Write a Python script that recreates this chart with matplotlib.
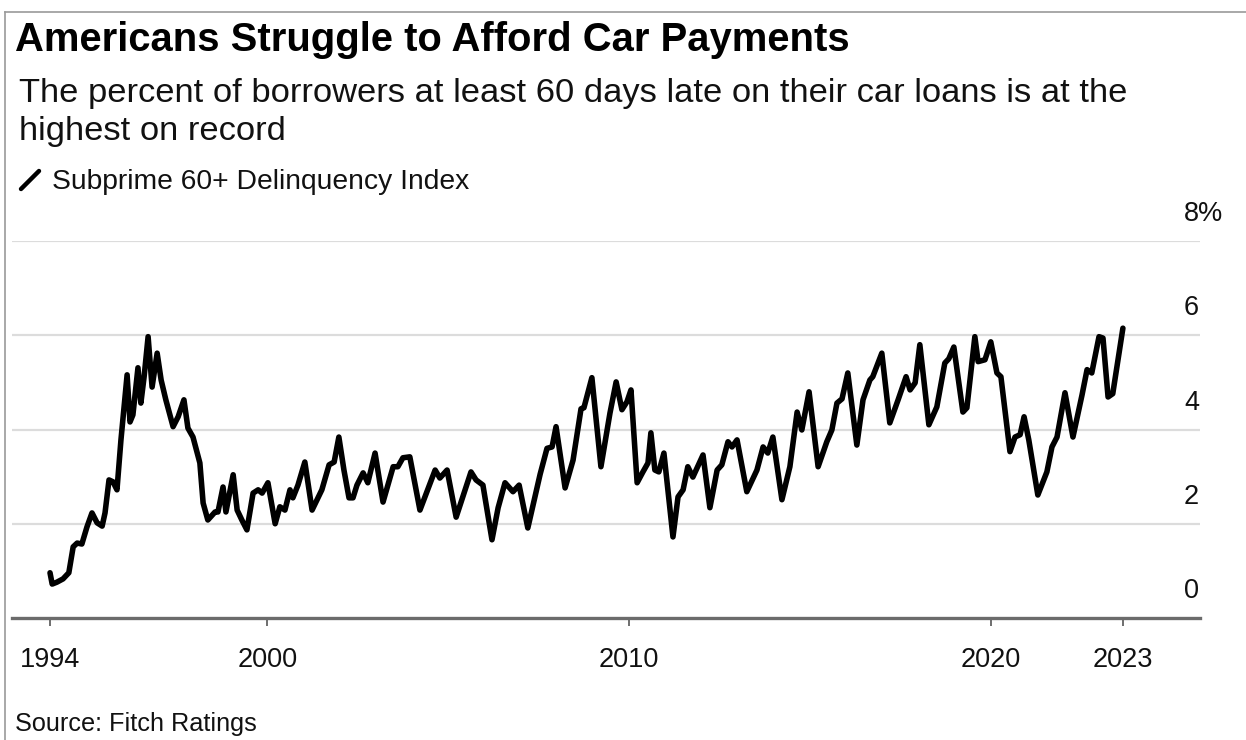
import numpy as np
import matplotlib
matplotlib.use("Agg")
from matplotlib import pyplot as plt
from matplotlib.lines import Line2D

plt.rcParams['font.family'] = ['Liberation Sans', 'DejaVu Sans']

title = "Americans Struggle to Afford Car Payments"
subtitle = ("The percent of borrowers at least 60 days late on their car loans is at the\n"
            "highest on record")
series_name = "Subprime 60+ Delinquency Index"
source = "Source: Fitch Ratings"

# Fitch subprime auto ABS 60+ day delinquency, percent (turning points of the series)
years = [
    1994.00, 1994.06, 1994.19, 1994.36, 1994.52, 1994.64, 1994.75, 1994.88,
    1995.02, 1995.16, 1995.30, 1995.44, 1995.52, 1995.63, 1995.74, 1995.85,
    1995.96, 1996.13, 1996.21, 1996.29, 1996.43, 1996.51, 1996.60, 1996.71,
    1996.82, 1996.90, 1996.96, 1997.07, 1997.20, 1997.40, 1997.54, 1997.70,
    1997.81, 1997.95, 1998.14, 1998.23, 1998.36, 1998.56, 1998.64, 1998.78,
    1998.86, 1999.06, 1999.17, 1999.30, 1999.44, 1999.61, 1999.75, 1999.86,
    2000.02, 2000.22, 2000.35, 2000.49, 2000.63, 2000.71, 2000.85, 2001.04,
    2001.24, 2001.51, 2001.71, 2001.85, 2001.98, 2002.12, 2002.26, 2002.37,
    2002.48, 2002.65, 2002.78, 2002.98, 2003.20, 2003.48, 2003.61, 2003.75,
    2003.94, 2004.22, 2004.64, 2004.77, 2004.97, 2005.22, 2005.63, 2005.77,
    2005.96, 2006.21, 2006.38, 2006.57, 2006.79, 2006.96, 2007.20, 2007.54,
    2007.73, 2007.87, 2007.98, 2008.23, 2008.45, 2008.67, 2008.75, 2008.97,
    2009.22, 2009.47, 2009.64, 2009.80, 2009.94, 2010.05, 2010.22, 2010.38,
    2010.52, 2010.60, 2010.71, 2010.82, 2010.96, 2011.21, 2011.35, 2011.49,
    2011.62, 2011.76, 2012.04, 2012.23, 2012.43, 2012.56, 2012.73, 2012.84,
    2012.98, 2013.25, 2013.53, 2013.70, 2013.83, 2013.97, 2014.22, 2014.44,
    2014.64, 2014.77, 2014.97, 2015.22, 2015.46, 2015.60, 2015.74, 2015.88,
    2016.04, 2016.29, 2016.46, 2016.65, 2016.73, 2016.98, 2017.20, 2017.43,
    2017.65, 2017.76, 2017.90, 2018.03, 2018.28, 2018.50, 2018.72, 2018.83,
    2018.97, 2019.22, 2019.33, 2019.55, 2019.64, 2019.83, 2019.99, 2020.16,
    2020.27, 2020.52, 2020.66, 2020.80, 2020.91, 2021.04, 2021.29, 2021.54,
    2021.68, 2021.82, 2022.04, 2022.26, 2022.51, 2022.65, 2022.78, 2022.98,
    2023.09, 2023.23, 2023.36, 2023.64]

rate = [
    0.96, 0.72, 0.76, 0.83, 0.96, 1.51, 1.59, 1.57,
    1.93, 2.23, 2.02, 1.95, 2.23, 2.93, 2.89, 2.72,
    3.78, 5.16, 4.16, 4.31, 5.31, 4.56, 5.12, 5.97,
    4.90, 5.31, 5.62, 5.05, 4.63, 4.06, 4.27, 4.63,
    4.03, 3.84, 3.29, 2.44, 2.08, 2.25, 2.25, 2.78,
    2.25, 3.04, 2.29, 2.08, 1.87, 2.65, 2.72, 2.65,
    2.87, 2.00, 2.36, 2.29, 2.72, 2.55, 2.82, 3.31,
    2.29, 2.72, 3.25, 3.31, 3.84, 3.14, 2.55, 2.55,
    2.82, 3.08, 2.87, 3.50, 2.46, 3.21, 3.21, 3.40,
    3.42, 2.29, 3.14, 2.97, 3.14, 2.14, 3.10, 2.93,
    2.82, 1.66, 2.34, 2.87, 2.68, 2.82, 1.91, 3.05,
    3.60, 3.63, 4.06, 2.76, 3.35, 4.44, 4.46, 5.10,
    3.21, 4.35, 5.01, 4.42, 4.59, 4.84, 2.87, 3.10,
    3.29, 3.93, 3.14, 3.10, 3.50, 1.72, 2.57, 2.72,
    3.21, 2.99, 3.46, 2.34, 3.14, 3.25, 3.74, 3.63,
    3.78, 2.68, 3.14, 3.63, 3.50, 3.84, 2.51, 3.21,
    4.37, 3.99, 4.80, 3.21, 3.74, 3.99, 4.56, 4.65,
    5.20, 3.67, 4.63, 5.05, 5.12, 5.62, 4.14, 4.63,
    5.12, 4.84, 4.99, 5.80, 4.10, 4.48, 5.41, 5.50,
    5.75, 4.37, 4.46, 5.97, 5.44, 5.48, 5.86, 5.20,
    5.12, 3.53, 3.84, 3.89, 4.27, 3.78, 2.61, 3.10,
    3.63, 3.84, 4.78, 3.84, 4.73, 5.27, 5.20, 5.97,
    5.94, 4.69, 4.76, 6.15]

x_ticks = [1994, 2000, 2010, 2020, years[-1]]
x_labels = ["1994", "2000", "2010", "2020", "2023"]
y_ticks = [0, 2, 4, 6, 8]
y_labels = ["0", "2", "4", "6", "8%"]

W, H = 1246, 740
fig = plt.figure(figsize=(W / 100, H / 100), dpi=100)

def px(x, y):
    # pixel position (from top-left) to figure fraction
    return x / W, 1 - y / H

left, right, top, bottom = 12, 1200, 241, 618
ax = fig.add_axes([left / W, 1 - bottom / H, (right - left) / W, (bottom - top) / H])
ax.set_xlim(1992.95, 2025.77)
ax.set_ylim(0, 8)

ax.plot(years, rate, color="black", lw=4.0, solid_joinstyle="round",
        solid_capstyle="round", zorder=3)

for v in y_ticks[1:]:
    ax.axhline(v, color="#dcdcdc", lw=1.6, zorder=1)
for v, lab in zip(y_ticks, y_labels):
    ax.annotate(lab, xy=(0.9865, v), xycoords=("axes fraction", "data"),
                xytext=(0, 10), textcoords="offset points",
                ha="left", va="bottom", fontsize=19.5, color="#111111",
                annotation_clip=False)

for s in ["left", "right", "top"]:
    ax.spines[s].set_visible(False)
ax.spines["bottom"].set_color("#6b6b6b")
ax.spines["bottom"].set_linewidth(2.4)
ax.set_yticks([])
ax.set_xticks(x_ticks)
ax.set_xticklabels(x_labels, fontsize=19.5, color="#111111")
ax.tick_params(axis="x", length=6, width=1.2, color="#555555", pad=15)

fig.text(*px(15, 51), title, fontsize=28.8, fontweight="bold", color="#000000",
         va="baseline")
fig.text(*px(19, 140), subtitle, fontsize=24.8, color="#111111", va="baseline",
         linespacing=1.3)
fig.add_artist(Line2D([21 / W, 39 / W], [1 - 189 / H, 1 - 171 / H],
                      color="black", lw=3.2, solid_capstyle="round"))
fig.text(*px(52, 189), series_name, fontsize=20.3, color="#111111", va="baseline")
fig.text(*px(15, 731), source, fontsize=18.2, color="#111111", va="baseline")

# thin frame along the left and top edges
fig.add_artist(Line2D([5 / W, 5 / W], [0, 1 - 12 / H], color="#9a9a9a", lw=1.2))
fig.add_artist(Line2D([5 / W, 1], [1 - 12 / H, 1 - 12 / H], color="#9a9a9a", lw=1.2))

fig.savefig("out.png", dpi=100)
